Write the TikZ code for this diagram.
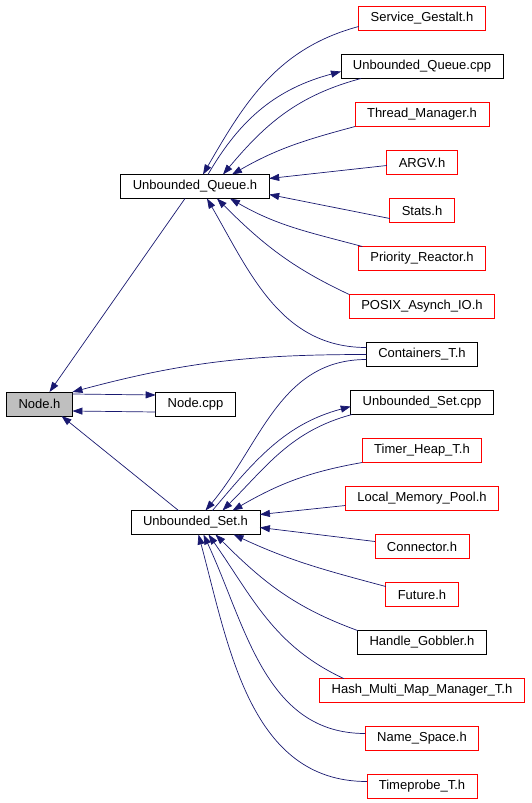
\documentclass[tikz,border=0pt]{standalone}
\usepackage{fontspec}
\setmainfont{Liberation Sans}
\usepackage{tikz}
\usetikzlibrary{positioning}
\usetikzlibrary{arrows.meta}
\definecolor{edgeblue}{HTML}{191970}
\definecolor{curgray}{HTML}{BFBFBF}

\begin{document}
\begin{tikzpicture}[x=1pt, y=-1pt, node distance={24pt}, line width=0.7pt,
    file/.style = {draw, rectangle, minimum height=24pt, inner xsep=12pt, inner ysep=0pt, outer sep=0pt, font=\fontsize{13}{15}\selectfont},
    ext/.style = {file, draw=red},
    cur/.style = {file, fill=curgray},
    edge/.style = {draw=edgeblue, -{Triangle[length=10pt,width=7pt]}, fill=none}]
            \useasboundingbox (0,0) rectangle (531,803);
            % Nodes
            \node[cur] (nodeh) at (39.5,404) {Node.h};
            \node[file] (nodecpp) at (195.5,404) {Node.cpp};
            \node[file] (uqh) at (195,186.5) {Unbounded\_Queue.h};
            \node[file] (ush) at (195.5,522.5) {Unbounded\_Set.h};
            \node[ext] (gestalt) at (422,18.5) {Service\_Gestalt.h};
            \node[file] (uqcpp) [below=of gestalt] {Unbounded\_Queue.cpp};
            \node[ext] (thrmgr) [below=of uqcpp] {Thread\_Manager.h};
            \node[ext] (argv) [below=of thrmgr] {ARGV.h};
            \node[ext] (stats) [below=of argv] {Stats.h};
            \node[ext] (prio) [below=of stats] {Priority\_Reactor.h};
            \node[ext] (posix) [below=of prio] {POSIX\_Asynch\_IO.h};
            \node[file] (cont) [below=of posix] {Containers\_T.h};
            \node[file] (uscpp) [below=of cont] {Unbounded\_Set.cpp};
            \node[ext] (timerheap) [below=of uscpp] {Timer\_Heap\_T.h};
            \node[ext] (lmp) [below=of timerheap] {Local\_Memory\_Pool.h};
            \node[ext] (conn) [below=of lmp] {Connector.h};
            \node[ext] (future) [below=of conn] {Future.h};
            \node[file] (hgob) [below=of future] {Handle\_Gobbler.h};
            \node[ext] (hmmm) [below=of hgob] {Hash\_Multi\_Map\_Manager\_T.h};
            \node[ext] (namesp) [below=of hmmm] {Name\_Space.h};
            \node[ext] (tprobe) [below=of namesp] {Timeprobe\_T.h};
            % Edges to Unbounded_Queue.h
            \draw[edge] ([yshift=-8pt]gestalt.west) to[out=195, in=60] ([xshift=8pt]uqh.north);
            \draw[edge] ([xshift=13pt]uqh.north) to[out=60, in=195] ([yshift=-5pt]uqcpp.west);
            \draw[edge] ([xshift=-61pt]uqcpp.south) to[out=195, in=50] ([xshift=28pt]uqh.north);
            \draw[edge] (thrmgr.south west) to[out=195, in=30] ([xshift=37pt]uqh.north);
            \draw[edge] ([yshift=-3pt]argv.west) -- ([yshift=8pt]uqh.east);
            \draw[edge] ([yshift=-8pt]stats.west) -- ([yshift=-8pt]uqh.east);
            \draw[edge] ([xshift=4pt]prio.north west) to[out=165, in=-30] ([xshift=35pt]uqh.south);
            \draw[edge] (posix.north west) to[out=155, in=-45] ([xshift=22pt]uqh.south);
            \draw[edge] ([yshift=7pt]cont.west) to[out=180, in=-60] ([xshift=12pt]uqh.south);
            % Edges to Node.h
            \draw[edge] ([xshift=-10pt]uqh.south) -- ([xshift=10pt]nodeh.north);
            \draw[edge] (cont.west) to[out=180, in=15] (nodeh.north east);
            \draw[edge] ([yshift=10pt]nodeh.east) -- ([yshift=9pt]nodecpp.west);
            \draw[edge] ([yshift=-8pt]nodecpp.west) -- ([yshift=-7pt]nodeh.east);
            \draw[edge] ([xshift=-17pt]ush.north) -- ([xshift=22pt]nodeh.south);
            % Edges to Unbounded_Set.h
            \draw[edge] ([yshift=-5pt]cont.west) to[out=180, in=50] ([xshift=10pt]ush.north);
            \draw[edge] ([xshift=17pt]ush.north) to[out=50, in=195] ([yshift=-4pt]uscpp.west);
            \draw[edge] ([xshift=-70pt]uscpp.south) to[out=195, in=45] ([xshift=27pt]ush.north);
            \draw[edge] (timerheap.south west) to[out=190, in=30] ([xshift=37pt]ush.north);
            \draw[edge] ([yshift=-7pt]lmp.west) -- ([yshift=8pt]ush.east);
            \draw[edge] ([yshift=5pt]conn.west) -- ([yshift=-5pt]ush.east);
            \draw[edge] ([yshift=8pt]future.west) to[out=165, in=-25] ([xshift=38pt]ush.south);
            \draw[edge] (hgob.north west) to[out=160, in=-45] ([xshift=20pt]ush.south);
            \draw[edge] ([xshift=24pt]hmmm.north west) to[out=155, in=-55] ([xshift=13pt]ush.south);
            \draw[edge] ([yshift=5pt]namesp.west) to[out=180, in=-65] ([xshift=8pt]ush.south);
            \draw[edge] ([yshift=5pt]tprobe.west) to[out=180, in=-75] ([xshift=3pt]ush.south);
\end{tikzpicture}
\end{document}
